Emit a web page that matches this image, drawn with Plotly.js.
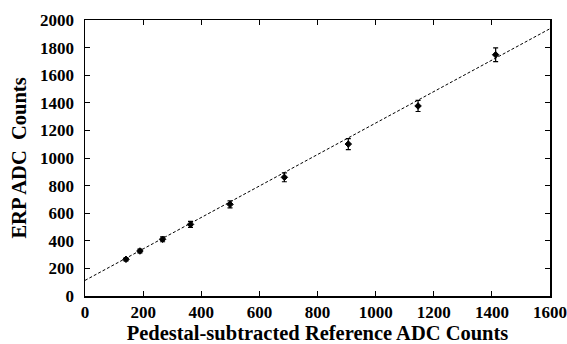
<!DOCTYPE html>
<html>
<head>
<meta charset="utf-8">
<script src="https://cdn.plot.ly/plotly-3.0.1.min.js"></script>
<style>html,body{margin:0;padding:0;background:#fff;}#chart{width:567px;height:344px;}</style>
</head>
<body>
<div id="chart"></div>
<script>
// Data
var refCounts = [141, 189, 267, 363, 499, 686, 906, 1146, 1413];
var erpCounts = [266, 326, 411, 519, 664, 860, 1101, 1377, 1748];
var erpErrors = [11, 14, 18, 22, 26, 32, 40, 40, 50];
// Linear fit line: x range and parameters
var fitX = [0, 1600];
var fitIntercept = 113;
var fitSlope = 1.14;
var fitY = fitX.map(function (x) { return fitIntercept + fitSlope * x; });
var xTickVals = [0, 200, 400, 600, 800, 1000, 1200, 1400, 1600];
var yTickVals = [0, 200, 400, 600, 800, 1000, 1200, 1400, 1600, 1800, 2000];

var fam = 'Liberation Serif';
function bold(v) { return '<b>' + v + '</b>'; }

var traces = [
  {
    x: fitX, y: fitY, type: 'scatter', mode: 'lines',
    line: {color: '#000', width: 1, dash: '3px,2px'},
    hoverinfo: 'skip', showlegend: false
  },
  {
    x: refCounts, y: erpCounts, type: 'scatter', mode: 'markers',
    marker: {symbol: 'diamond', size: 5, color: '#000', line: {color: '#000', width: 1}},
    error_y: {type: 'data', array: erpErrors, visible: true, color: '#000', thickness: 1.2, width: 2.5},
    showlegend: false
  }
];

var layout = {
  width: 567, height: 344,
  margin: {l: 85, r: 17, t: 20, b: 48},
  paper_bgcolor: '#fff', plot_bgcolor: '#fff',
  showlegend: false,
  font: {family: fam, color: '#000'},
  xaxis: {
    range: [0, 1600], tickmode: 'array', tickvals: xTickVals, ticktext: xTickVals.map(bold),
    ticks: 'inside', ticklen: 5, tickwidth: 1, tickcolor: '#000',
    showline: true, linecolor: '#000', linewidth: 1.5, mirror: 'allticks',
    showgrid: false, zeroline: false,
    tickfont: {family: fam, size: 17, color: '#000'},
    title: {text: bold('Pedestal-subtracted Reference ADC Counts'), font: {family: fam, size: 20.5, color: '#000'}, standoff: 4}
  },
  yaxis: {
    range: [0, 2000], tickmode: 'array', tickvals: yTickVals, ticktext: yTickVals.map(bold),
    ticks: 'inside', ticklen: 5, tickwidth: 1, tickcolor: '#000',
    showline: true, linecolor: '#000', linewidth: 1.5, mirror: 'allticks',
    showgrid: false, zeroline: false, ticklabelstandoff: 6,
    tickfont: {family: fam, size: 17, color: '#000'},
    title: {text: bold('ERP ADC&nbsp; Counts'), font: {family: fam, size: 20.5, color: '#000'}, standoff: 8}
  }
};

Plotly.newPlot('chart', traces, layout, {displayModeBar: false, staticPlot: true});
</script>
</body>
</html>
